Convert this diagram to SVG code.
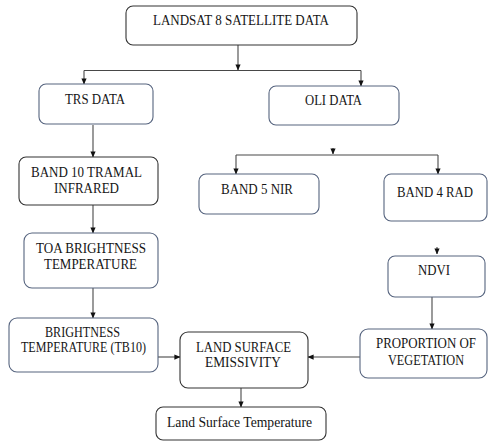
<svg xmlns="http://www.w3.org/2000/svg" width="488" height="441" viewBox="0 0 488 441">
<style>
.box{fill:#fff;stroke-width:1.1}
.blue{stroke:#56647f}
.dark{stroke:#333}
text{font-family:'Liberation Serif','DejaVu Serif',serif;font-size:14px;fill:#151515;text-anchor:middle}
.c{fill:none;stroke:#484848;stroke-width:1.1}
</style>
<defs>
<marker id="ah" viewBox="0 0 8 8" refX="7.5" refY="4" markerWidth="6" markerHeight="6" orient="auto" markerUnits="userSpaceOnUse">
<path d="M0,0.5 L8,4 L0,7.5 Z" fill="#111"/>
</marker>
</defs>
<rect width="488" height="441" fill="#fff"/>
<g id="connectors">
<path class="c" d="M238,45 V70" marker-end="url(#ah)"/>
<path class="c" d="M84,70.5 H361"/>
<path class="c" d="M84,70.5 V84" marker-end="url(#ah)"/>
<path class="c" d="M361,70.5 V86" marker-end="url(#ah)"/>
<path class="c" d="M93,125 V157" marker-end="url(#ah)"/>
<path class="c" d="M333,148 V154" marker-end="url(#ah)"/>
<path class="c" d="M236,155 H438"/>
<path class="c" d="M236,155 V174" marker-end="url(#ah)"/>
<path class="c" d="M438,155 V174" marker-end="url(#ah)"/>
<path class="c" d="M437,247 V254" marker-end="url(#ah)"/>
<path class="c" d="M93,205 V233" marker-end="url(#ah)"/>
<path class="c" d="M93,288 V318" marker-end="url(#ah)"/>
<path class="c" d="M158,357 H180" marker-end="url(#ah)"/>
<path class="c" d="M360,357 H308" marker-end="url(#ah)"/>
<path class="c" d="M432,297 V329" marker-end="url(#ah)"/>
<path class="c" d="M241,388 V407" marker-end="url(#ah)"/>
</g>
<g id="landsat">
<rect class="box dark" x="126" y="6" width="231" height="39" rx="7"/>
<text x="241" y="25" textLength="176" lengthAdjust="spacingAndGlyphs">LANDSAT 8 SATELLITE DATA</text>
</g>
<g id="trs">
<rect class="box blue" x="39" y="84" width="114" height="40" rx="7"/>
<text x="95" y="104" textLength="60" lengthAdjust="spacingAndGlyphs">TRS DATA</text>
</g>
<g id="oli">
<rect class="box blue" x="269" y="86" width="130" height="39" rx="7"/>
<text x="333.5" y="105" textLength="57" lengthAdjust="spacingAndGlyphs">OLI DATA</text>
</g>
<g id="band10">
<rect class="box dark" x="19" y="157" width="139" height="48" rx="7"/>
<text x="86.5" y="177" textLength="111" lengthAdjust="spacingAndGlyphs">BAND 10 TRAMAL</text>
<text x="86.5" y="193" textLength="65" lengthAdjust="spacingAndGlyphs">INFRARED</text>
</g>
<g id="band5">
<rect class="box blue" x="199" y="174" width="120" height="40" rx="7"/>
<text x="257" y="194" textLength="72" lengthAdjust="spacingAndGlyphs">BAND 5 NIR</text>
</g>
<g id="band4">
<rect class="box blue" x="384" y="174" width="103" height="47" rx="7"/>
<text x="435" y="197" textLength="76" lengthAdjust="spacingAndGlyphs">BAND 4 RAD</text>
</g>
<g id="toa">
<rect class="box blue" x="24" y="233" width="134" height="55" rx="8"/>
<text x="91" y="253" textLength="110" lengthAdjust="spacingAndGlyphs">TOA BRIGHTNESS</text>
<text x="90.5" y="269" textLength="93" lengthAdjust="spacingAndGlyphs">TEMPERATURE</text>
</g>
<g id="ndvi">
<rect class="box blue" x="388" y="256" width="97" height="41" rx="7"/>
<text x="434" y="275" textLength="32" lengthAdjust="spacingAndGlyphs">NDVI</text>
</g>
<g id="brightness">
<rect class="box blue" x="9" y="318" width="149" height="54" rx="8"/>
<text x="82.5" y="337" textLength="75" lengthAdjust="spacingAndGlyphs">BRIGHTNESS</text>
<text x="83.5" y="352" textLength="125" lengthAdjust="spacingAndGlyphs">TEMPERATURE (TB10)</text>
</g>
<g id="lse">
<rect class="box dark" x="180" y="332" width="128" height="56" rx="8"/>
<text x="243.5" y="352" textLength="95" lengthAdjust="spacingAndGlyphs">LAND SURFACE</text>
<text x="243" y="367" textLength="76" lengthAdjust="spacingAndGlyphs">EMISSIVITY</text>
</g>
<g id="proportion">
<rect class="box blue" x="360" y="329" width="127" height="49" rx="8"/>
<text x="426" y="348" textLength="100" lengthAdjust="spacingAndGlyphs">PROPORTION OF</text>
<text x="426" y="365" textLength="76" lengthAdjust="spacingAndGlyphs">VEGETATION</text>
</g>
<g id="lst">
<rect class="box dark" x="156" y="407" width="170" height="33" rx="7"/>
<text x="239.5" y="427" textLength="145" lengthAdjust="spacingAndGlyphs">Land Surface Temperature</text>
</g>
</svg>
